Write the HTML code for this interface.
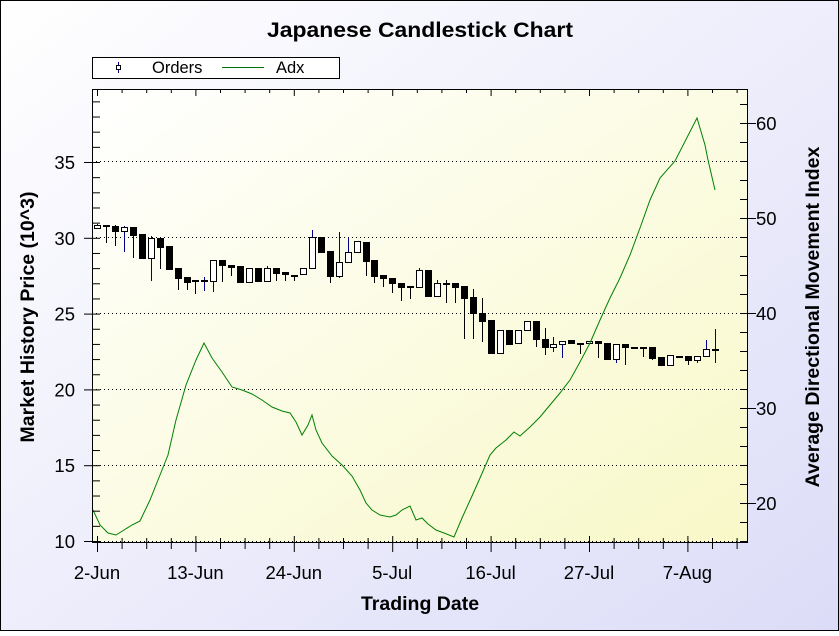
<!DOCTYPE html>
<html><head><meta charset="utf-8"><style>
html,body{margin:0;padding:0;}
body{width:839px;height:631px;overflow:hidden;}
text{font-family:"Liberation Sans",Arial,sans-serif;}
</style></head><body>
<svg id="s" width="839" height="631" xmlns="http://www.w3.org/2000/svg">
<defs>
<linearGradient id="bg" x1="0" y1="0" x2="1" y2="1">
<stop offset="0" stop-color="#ffffff"/><stop offset="1" stop-color="#dcdcf8"/></linearGradient>
<linearGradient id="pa" x1="0" y1="0" x2="1" y2="1">
<stop offset="0" stop-color="#ffffff"/><stop offset="1" stop-color="#f8f8c8"/></linearGradient>
</defs>
<rect x="0.5" y="0.5" width="838" height="630" fill="url(#bg)" stroke="#000"/>
<text x="420" y="37" font-size="21" font-weight="bold" text-anchor="middle" textLength="306" lengthAdjust="spacingAndGlyphs">Japanese Candlestick Chart</text>
<rect x="92.5" y="57.5" width="247" height="21" fill="#fff" stroke="#000"/>
<line x1="118.5" y1="62" x2="118.5" y2="73" stroke="#00008b"/>
<rect x="116.5" y="65.5" width="4" height="4" fill="#fff" stroke="#000"/>
<text x="152" y="73" font-size="16.5">Orders</text>
<line x1="222" y1="67.5" x2="264" y2="67.5" stroke="#007000"/>
<text x="276" y="73" font-size="16.5">Adx</text>
<rect x="92" y="89" width="656" height="454" fill="url(#pa)"/>
<g id="grid" stroke="#000" stroke-dasharray="1,3"></g>
<g id="c"></g>
<polyline fill="none" stroke="#008000" stroke-width="1" points="93,510 100,525 108,533 116,535 124,530 132,525 140,521 150,500 160,475 168,455 176,420 186,385 196,360 204,343 212,358 222,372 232,387 242,390 252,394 262,400 272,407 282,411 290,413 296,422 302,435 308,425 312,415 316,430 322,443 332,456 342,465 352,476 360,490 366,503 372,510 380,515 390,517 396,515 402,510 410,506 416,520 422,518 428,524 436,530 444,533 454,537 462,518 472,496 480,478 490,455 496,448 506,440 514,432 520,436 530,427 540,417 550,405 560,393 570,380 580,362 590,343 600,320 610,298 620,278 630,255 640,228 650,200 660,178 675,161 697,118 705,145 708,160 715,190"/>
<g id="ax" stroke="#000"></g>
<g id="lb" font-size="18.5"></g>
<text x="420" y="610" font-size="19.5" font-weight="bold" text-anchor="middle">Trading Date</text>
<text transform="translate(34,317) rotate(-90)" font-size="19.5" font-weight="bold" text-anchor="middle">Market History Price (10^3)</text>
<text transform="translate(819,317) rotate(-90)" font-size="19.5" font-weight="bold" text-anchor="middle">Average Directional Movement Index</text>
</svg>
<script>
var NS="http://www.w3.org/2000/svg";
function el(p,t,a,txt){var e=document.createElementNS(NS,t);for(var k in a)e.setAttribute(k,a[k]);if(txt)e.textContent=txt;document.getElementById(p).appendChild(e);return e;}
[465,389,313,237,161].forEach(function(y){el("grid","line",{x1:92,x2:748,y1:y+0.5,y2:y+0.5});});
el("grid","line",{x1:92,x2:748,y1:541.5,y2:541.5});
el("ax","line",{x1:92.5,y1:89,x2:92.5,y2:543});
el("ax","line",{x1:747.5,y1:89,x2:747.5,y2:543});
el("ax","line",{x1:92,y1:542.5,x2:748,y2:542.5});
el("ax","line",{x1:92,y1:89.5,x2:748,y2:89.5});
for(var v=10;v<=39;v++){var y=541-(v-10)*15.16;var maj=v%5==0;el("ax","line",{x1:maj?84:92,x2:100,y1:y+0.5,y2:y+0.5});
 if(maj)el("lb","text",{x:75,y:y+7,"text-anchor":"end"},String(v));}
for(var r=16;r<=62;r+=2){var y=503-(r-20)*9.5;if(y<90||y>542)continue;var maj=r%10==0;el("ax","line",{x1:740,x2:maj?756:748,y1:y+0.5,y2:y+0.5});
 if(maj)el("lb","text",{x:756,y:y+7},String(r));}
var labs=["2-Jun","13-Jun","24-Jun","5-Jul","16-Jul","27-Jul","7-Aug"];
for(var i=0;i<27;i++){var x=97+i*24.6;if(x>747)break;var maj=i%4==0;
 el("ax","line",{x1:x+0.5,x2:x+0.5,y1:maj?536:538,y2:maj?552:549});
 el("ax","line",{x1:x+0.5,x2:x+0.5,y1:89,y2:maj?96:93});
 if(maj)el("lb","text",{x:x,y:579,"text-anchor":"middle"},labs[i/4]);}
var C=[
[225,228,224,229,1],[225,226,225,243,0],[226,231,225,246,0],[227,231,226,252,1],[227,235,227,258,0],
[234,258,234,259,0],[238,258,236,281,1],[238,247,238,269,0],[246,269,246,269,0],[268,278,268,290,0],
[277,282,277,290,0],[280,281,280,294,0],[280,281,277,291,1],[260,281,260,292,1],[260,265,260,282,0],
[265,267,265,276,0],[266,282,266,282,0],[268,282,268,282,1],[268,281,268,281,0],[268,281,266,281,1],
[268,273,268,281,0],[272,274,272,281,0],[275,276,275,281,0],[268,274,268,274,1],[237,268,230,268,1],
[237,252,237,252,0],[251,276,251,283,0],[262,276,232,278,1],[252,262,238,262,1],[241,252,241,252,1],
[242,261,242,276,0],[260,276,260,283,0],[275,278,275,287,0],[278,283,278,293,0],[283,287,283,301,0],
[286,287,286,299,0],[270,287,268,287,1],[270,296,270,296,0],[283,296,280,296,1],[283,284,280,303,0],
[283,287,283,303,0],[286,298,286,339,0],[297,313,289,339,0],[313,321,298,342,0],[320,353,320,353,0],
[330,353,330,353,1],[330,344,330,344,0],[330,343,330,343,1],[321,330,321,330,1],[321,339,321,347,0],
[339,347,328,355,0],[344,347,337,352,1],[341,344,341,358,1],[340,343,340,343,0],[343,344,343,354,0],
[341,343,341,343,1],[341,343,341,358,0],[343,359,343,359,0],[344,359,344,363,1],[344,347,344,365,0],
[347,348,347,348,0],[347,348,347,357,0],[347,358,347,360,0],[357,365,357,365,0],[355,365,355,365,1],
[356,357,356,357,0],[356,360,356,365,0],[356,360,356,363,1],[349,356,340,356,1],[349,350,329,363,1]];
C.forEach(function(c,i){var x=Math.round(97+i*8.95);
 el("c","line",{x1:x+0.5,x2:x+0.5,y1:c[2],y2:c[3],stroke:c[4]?"#00008b":"#000"});
 var h=Math.max(c[1]-c[0],1);
 if(c[4])el("c","rect",{x:x-2.5,y:c[0]+0.5,width:6,height:h,fill:"#fff",stroke:"#000"});
 else el("c","rect",{x:x-3,y:c[0],width:7,height:h+1,fill:"#000"});
});
</script>
</body></html>
